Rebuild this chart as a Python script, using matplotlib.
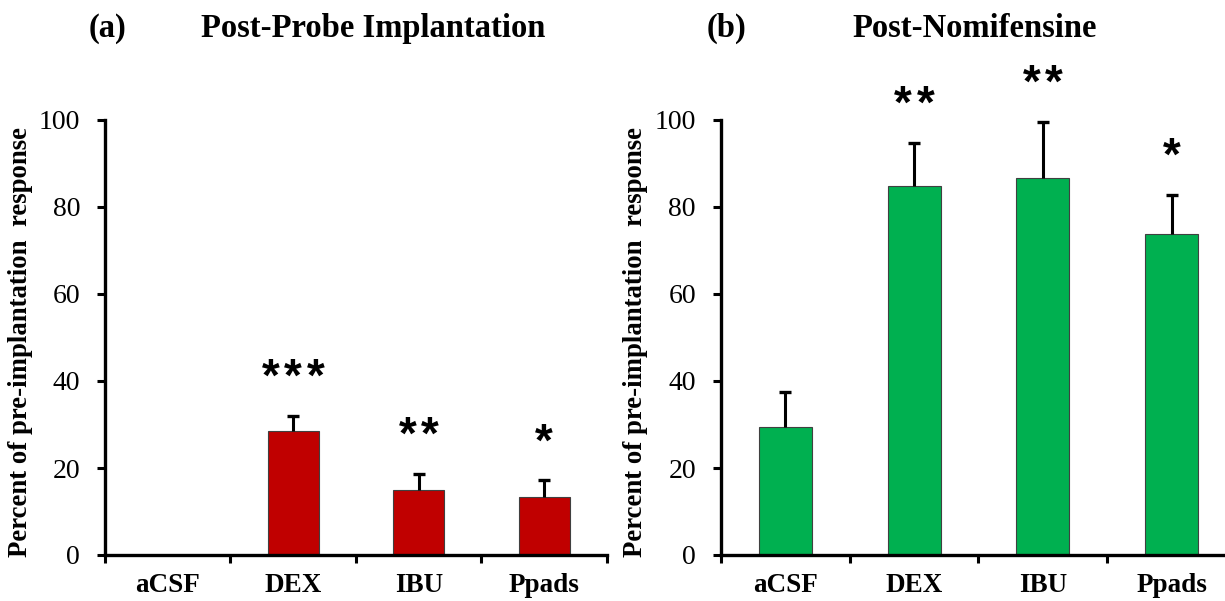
import matplotlib
matplotlib.use("Agg")
import matplotlib.pyplot as plt
import numpy as np

categories = ["aCSF", "DEX", "IBU", "Ppads"]
probe_means = [0.0, 28.4, 14.9, 13.3]
probe_err = [0.0, 3.6, 3.8, 3.9]
probe_stars = [0, 3, 2, 1]
nomi_means = [29.4, 84.8, 86.7, 73.8]
nomi_err = [8.0, 10.0, 12.9, 9.0]
nomi_stars = [0, 2, 2, 1]
yticks = [0, 20, 40, 60, 80, 100]

SERIF = "Liberation Serif"
fig = plt.figure(figsize=(12.25, 6.01), dpi=100)

def panel(rect, means, errs, stars, color, letter, title, letter_x, title_x, ylab_x):
    ax = fig.add_axes(rect)
    x = np.arange(len(categories)) + 0.5
    ax.bar(x, means, width=0.41, color=color, edgecolor="#404040", linewidth=0.8, zorder=2)
    for xi, m, e in zip(x, means, errs):
        if e > 0:
            ax.errorbar([xi], [m], yerr=[[0], [e]], fmt="none", ecolor="black",
                        elinewidth=2.2, capsize=0, zorder=3)
            ax.plot([xi], [m + e], marker="_", markersize=9, mew=2.4,
                    color="black", zorder=3)
    for xi, m, e, n in zip(x, means, errs, stars):
        for k in range(n):
            off = (k - (n - 1) / 2) * 16.2
            ax.annotate("*", (xi, m + e + 8.5), xytext=(off, 0),
                        textcoords="offset points", ha="center", va="center",
                        family="Liberation Sans", fontweight="bold", fontsize=33,
                        annotation_clip=False)
    ax.set_xlim(0, 4)
    ax.set_ylim(0, 100)
    ax.set_yticks(yticks)
    ax.set_yticklabels([str(t) for t in yticks], family=SERIF, fontsize=20)
    ax.set_xticks(np.arange(0, 5))
    ax.set_xticklabels([])
    ax.set_xticks(x, minor=True)
    ax.set_xticklabels(categories, minor=True, family=SERIF, fontweight="bold", fontsize=19.5)
    ax.tick_params(axis="x", which="minor", length=0, pad=13)
    ax.tick_params(axis="x", which="major", direction="out", length=6, width=2.2)
    ax.tick_params(axis="y", direction="out", length=6, width=2.2, pad=12)
    for sp in ["top", "right"]:
        ax.spines[sp].set_visible(False)
    for sp in ["left", "bottom"]:
        ax.spines[sp].set_linewidth(2.4)
    ax.set_ylabel("Percent of pre-implantation  response", family=SERIF,
                  fontweight="bold", fontsize=19.3)
    ax.yaxis.set_label_coords(ylab_x, 0.49)
    fig.text(letter_x, 0.953, letter, ha="center", va="center", family=SERIF,
             fontweight="bold", fontsize=23.5)
    fig.text(title_x, 0.953, title, ha="center", va="center", family=SERIF,
             fontweight="bold", fontsize=23.5)
    return ax

panel([105/1225, 46/601, 502/1225, 435/601], probe_means, probe_err, probe_stars,
      "#C00000", "(a)", "Post-Probe Implantation", 107/1225, 373/1225, -0.143)
panel([721/1225, 46/601, 515/1225, 435/601], nomi_means, nomi_err, nomi_stars,
      "#00B050", "(b)", "Post-Nomifensine", 727/1225, 975/1225, -0.142)

fig.savefig("out.png", dpi=100)
